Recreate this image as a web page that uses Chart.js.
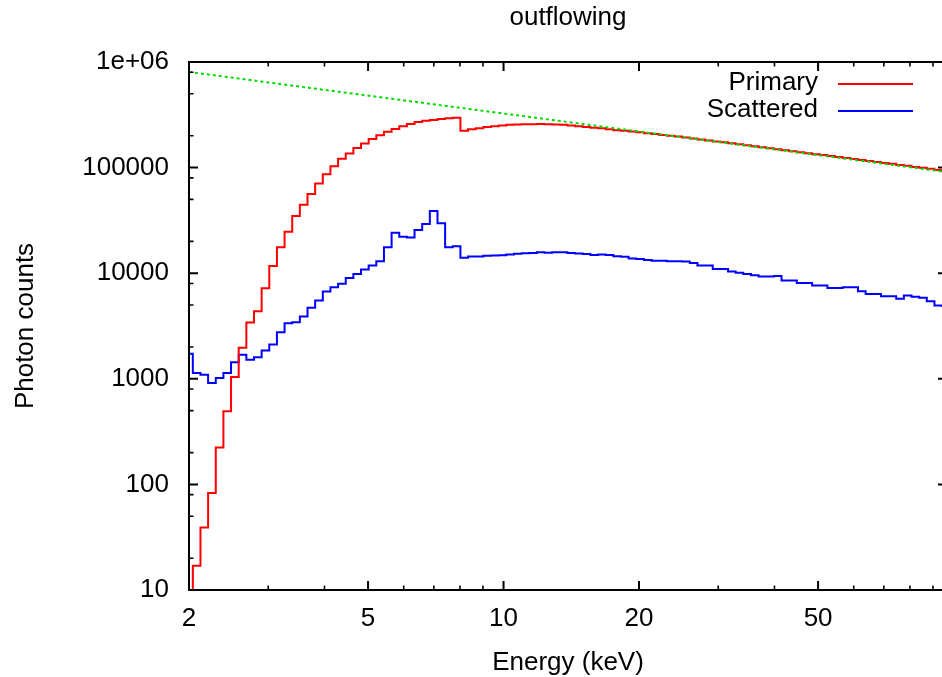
<!DOCTYPE html>
<html>
<head>
<meta charset="utf-8">
<script src="https://cdn.jsdelivr.net/npm/chart.js@4.4.1/dist/chart.umd.min.js"></script>
<style>
  html, body { margin: 0; padding: 0; background: #fff; overflow: hidden; }
  #wrap { width: 942px; height: 677px; overflow: hidden; position: relative; }
  canvas { display: block; }
</style>
</head>
<body>
<div id="wrap"><canvas id="c" width="948" height="677"></canvas></div>
<script>
// Bin energies (keV), log-spaced bins
const energy = [1.961, 2.0395, 2.1209, 2.2055, 2.2935, 2.3850, 2.4801, 2.5791, 2.6820, 2.7890,
  2.9003, 3.0160, 3.1363, 3.2614, 3.3915, 3.5268, 3.6675, 3.8138, 3.9660, 4.1242,
  4.2887, 4.4598, 4.6377, 4.8227, 5.0151, 5.2152, 5.4233, 5.6397, 5.8647, 6.0987,
  6.3420, 6.5950, 6.8581, 7.1317, 7.4162, 7.7121, 8.0198, 8.3397, 8.6724, 9.0184,
  9.3782, 9.7523, 10.141, 10.546, 10.967, 11.404, 11.859, 12.332, 12.824, 13.336,
  13.868, 14.421, 14.997, 15.595, 16.217, 16.864, 17.537, 18.237, 18.965, 19.721,
  20.508, 21.326, 22.177, 23.062, 23.982, 24.939, 25.934, 26.969, 28.045, 29.164,
  30.327, 31.537, 32.795, 34.104, 35.464, 36.879, 38.350, 39.880, 41.471, 43.126,
  44.846, 46.635, 48.496, 50.431, 52.443, 54.535, 56.711, 58.974, 61.327, 63.773,
  66.317, 68.963, 71.714, 74.575, 77.550, 80.644, 83.861, 87.207, 90.686, 94.304,
  98.066];

const primary = [1, 17, 39, 83, 223, 492, 1040, 1970, 3410, 4370,
  7200, 11700, 17600, 24700, 34800, 44400, 56100, 70700, 86700, 103000,
  121000, 136000, 153000, 169000, 187000, 203000, 219000, 232000, 246000, 259000,
  271000, 277000, 283000, 289000, 293000, 296000, 223000, 231000, 236000, 242000,
  247000, 250000, 254000, 256000, 258000, 258000, 259000, 258000, 256000, 254000,
  250000, 247000, 243000, 239000, 236000, 231000, 226000, 223000, 220000, 216000,
  212000, 208000, 204000, 200500, 197000, 193000, 189000, 185000, 181000, 177000,
  173500, 170000, 166000, 163000, 159000, 156000, 152500, 149500, 146000, 143000,
  140000, 137000, 134000, 131500, 128500, 126000, 123000, 120500, 118000, 115500,
  113000, 110500, 108500, 106000, 104000, 101500, 99500, 97500, 95000, 93500,
  91500];

const scattered = [1726, 1133, 1094, 911, 1016, 1133, 1438, 1690, 1516, 1604,
  1854, 2113, 2762, 3358, 3433, 3890, 4699, 5510, 6700, 7360,
  7925, 9030, 9850, 10820, 11800, 12970, 17580, 24200, 22200, 21800,
  25640, 29240, 38800, 29650, 17570, 17950, 13970, 14360, 14400, 14660,
  14700, 14800, 15000, 15300, 15420, 15500, 15780, 15600, 15780, 15750,
  15550, 15400, 15200, 14890, 15000, 14900, 14450, 14300, 13800, 13640,
  13350, 13150, 13100, 12970, 12970, 12900, 12500, 11800, 11800, 10970,
  10970, 10350, 10100, 9840, 9550, 9290, 9300, 9420, 8510, 8510,
  8090, 8090, 7630, 7630, 7260, 7260, 7360, 7360, 6740, 6370,
  6370, 6050, 6050, 5720, 6140, 6000, 5840, 5420, 4940, 4900,
  4900];

// Incident power-law reference (dotted green)
const incidentE = [2, 20, 100];
const incidentCounts = [805000, 220000, 88900];

// Axis ticks
const xMajorTicks = [2, 5, 10, 20, 50];
const xMinorTicks = [3, 4, 6, 7, 8, 9, 30, 40, 60, 70, 80, 90];
const yMajorTicks = [10, 100, 1000, 10000, 100000, 1000000];
const yTickLabels = ['10', '100', '1000', '10000', '100000', '1e+06'];
const yMinorTicks = [20, 50, 80, 200, 500, 800, 2000, 5000, 8000, 20000, 50000, 80000, 200000, 500000, 800000];

const FONT = 'Liberation Sans, Arial, Helvetica, sans-serif';

const toXY = (xs, ys) => xs.map((x, i) => ({ x: x, y: ys[i] }));

const framePlugin = {
  id: 'frame',
  afterDatasetsDraw(chart) {
    const { ctx, chartArea: { left, right, top, bottom }, scales: { x, y } } = chart;
    ctx.save();
    ctx.strokeStyle = '#000';
    const xt = (vals, len, w) => {
      ctx.lineWidth = w; ctx.beginPath();
      vals.forEach(v => {
        const p = x.getPixelForValue(v);
        if (p < left - 0.5 || p > right + 0.5) return;
        ctx.moveTo(p, bottom); ctx.lineTo(p, bottom - len);
        ctx.moveTo(p, top); ctx.lineTo(p, top + len);
      });
      ctx.stroke();
    };
    const yt = (vals, len, w) => {
      ctx.lineWidth = w; ctx.beginPath();
      vals.forEach(v => {
        const p = y.getPixelForValue(v);
        if (p < top - 0.5 || p > bottom + 0.5) return;
        ctx.moveTo(left, p); ctx.lineTo(left + len, p);
        ctx.moveTo(right, p); ctx.lineTo(right - len, p);
      });
      ctx.stroke();
    };
    xt(xMajorTicks, 9, 2); xt(xMinorTicks, 4.5, 1.6);
    yt(yMajorTicks, 9, 2); yt(yMinorTicks, 4.5, 1.6);
    ctx.lineWidth = 2;
    ctx.strokeRect(left, top, right - left, bottom - top);
    ctx.restore();
  }
};

const keyPlugin = {
  id: 'key',
  afterDraw(chart) {
    const { ctx } = chart;
    const items = chart.data.datasets.filter(d => d.label);
    ctx.save();
    ctx.font = '26px ' + FONT;
    ctx.textAlign = 'right';
    ctx.textBaseline = 'middle';
    items.forEach((d, i) => {
      const ly = 84 + i * 27;
      ctx.fillStyle = '#000';
      ctx.fillText(d.label, 818, ly - 1.5);
      ctx.strokeStyle = d.borderColor;
      ctx.lineWidth = 2;
      ctx.beginPath(); ctx.moveTo(838, ly); ctx.lineTo(913, ly); ctx.stroke();
    });
    ctx.restore();
  }
};

new Chart(document.getElementById('c'), {
  type: 'line',
  data: {
    datasets: [
      { label: 'Primary', data: toXY(energy, primary), borderColor: '#ff0000', borderWidth: 2,
        stepped: 'before', pointRadius: 0, fill: false, order: 1 },
      { label: 'Scattered', data: toXY(energy, scattered), borderColor: '#0000ff', borderWidth: 2,
        stepped: 'before', pointRadius: 0, fill: false, order: 2 },
      { label: '', data: toXY(incidentE, incidentCounts), borderColor: '#00dd00', borderWidth: 2,
        borderDash: [3, 3], pointRadius: 0, fill: false, order: 0 }
    ]
  },
  options: {
    responsive: false,
    animation: false,
    devicePixelRatio: 1,
    events: [],
    layout: { padding: { left: 0, right: 1, top: 0, bottom: 0 } },
    plugins: {
      legend: { display: false },
      tooltip: { enabled: false },
      title: {
        display: true, text: 'outflowing', fullSize: false, color: '#000',
        font: { family: FONT, size: 26, weight: 'normal', lineHeight: 1.2 },
        padding: { top: 2.7, bottom: 28.1 }
      }
    },
    scales: {
      x: {
        type: 'logarithmic', min: 2, max: 96.7, position: 'bottom',
        grid: { display: false, drawTicks: false },
        border: { display: false },
        afterBuildTicks: (s) => { s.ticks = xMajorTicks.map(v => ({ value: v })); },
        afterFit: (s) => { s.height = 87; },
        ticks: { autoSkip: false, maxRotation: 0, minRotation: 0, padding: 13, color: '#000',
          font: { family: FONT, size: 26, lineHeight: 1.2 },
          callback: (v) => String(v) },
        title: { display: true, text: 'Energy (keV)', color: '#000',
          font: { family: FONT, size: 26, lineHeight: 1 }, padding: { top: 0, bottom: 1.3 } }
      },
      y: {
        type: 'logarithmic', min: 10, max: 1000000, position: 'left',
        grid: { display: false, drawTicks: false },
        border: { display: false },
        afterBuildTicks: (s) => { s.ticks = yMajorTicks.map(v => ({ value: v })); },
        afterFit: (s) => { s.width = 189; },
        ticks: { autoSkip: false, padding: 20, color: '#000',
          font: { family: FONT, size: 26, lineHeight: 1.2 },
          callback: (v) => { const i = yMajorTicks.indexOf(v); return i >= 0 ? yTickLabels[i] : ''; } },
        title: { display: true, text: 'Photon counts', color: '#000',
          font: { family: FONT, size: 26, lineHeight: 1.2 }, padding: { top: 10.4, bottom: 0 } }
      }
    }
  },
  plugins: [framePlugin, keyPlugin]
});
</script>
</body>
</html>
